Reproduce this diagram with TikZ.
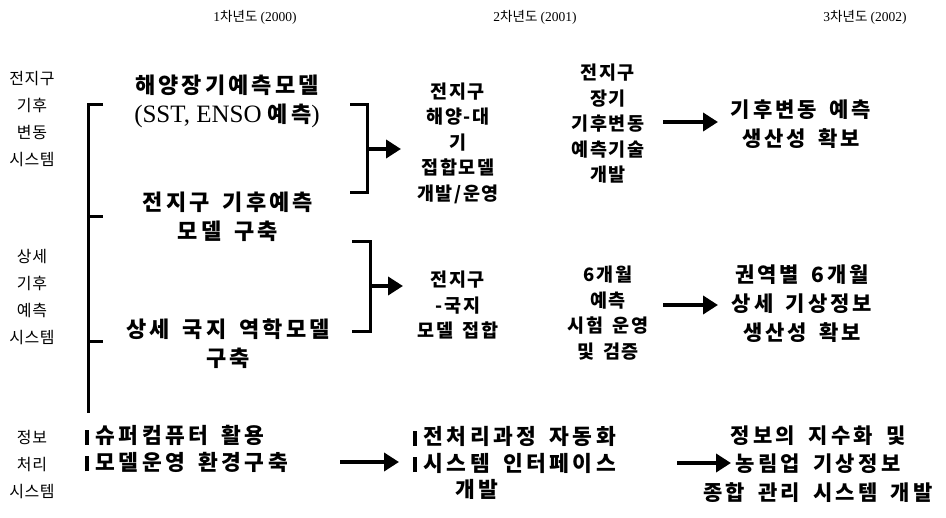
\documentclass[tikz,border=0pt]{standalone}
\usepackage{fontspec}
\newfontfamily\kr{Noto Sans CJK KR}[LetterSpace=4]
\newfontfamily\krA{Noto Sans CJK KR}[LetterSpace=14,WordSpace=1.6]
\newfontfamily\krB{Noto Sans CJK KR}[LetterSpace=8,WordSpace=1.6]
\newfontfamily\krC{Noto Sans CJK KR}[LetterSpace=16,WordSpace=1.6]
\newfontfamily\krh{Noto Sans CJK KR}
\newfontfamily\lat{Liberation Serif}
\usetikzlibrary{arrows.meta}
\tikzset{
  lbl/.style={font=\kr\fontsize{16}{27}\selectfont, align=center, inner sep=0pt},
  hdr/.style={font=\krh\fontsize{13.5}{16}\selectfont, inner sep=0pt},
  big/.style={font=\krA\bfseries\fontsize{22}{29}\selectfont, align=center, inner sep=0pt},
  mid/.style={font=\krB\bfseries\fontsize{18.5}{25.5}\selectfont, align=center, inner sep=0pt},
  res/.style={font=\krA\bfseries\fontsize{21}{29}\selectfont, align=center, inner sep=0pt},
  bot/.style={font=\krC\bfseries\fontsize{21.5}{26.5}\selectfont, align=left, inner sep=0pt},
  brk/.style={line width=3pt},
  arr/.style={line width=4pt, -{Triangle[length=15pt,width=18pt]}},
}
\newcommand{\barmark}{\rule[-1pt]{3.5pt}{15pt}\hspace{7pt}}
\begin{document}
\begin{tikzpicture}[x=1pt,y=-1pt]
\useasboundingbox (0,0) rectangle (946,518);
% headers
\node[hdr] (h1) at (255,17) {{\lat 1}차년도 {\lat (2000)}};
\node[hdr] (h2) at (535,17) {{\lat 2}차년도 {\lat (2001)}};
\node[hdr] (h3) at (865,17) {{\lat 3}차년도 {\lat (2002)}};
% left labels
\node[lbl] (l1) at (32,119) {전지구\\기후\\변동\\시스템};
\node[lbl] (l2) at (32,297) {상세\\기후\\예측\\시스템};
\node[lbl] (l3) at (32,465) {정보\\처리\\시스템};
% left bracket
\coordinate (bt) at (88,105);
\coordinate (bm) at (88,217);
\coordinate (bl) at (88,342);
\coordinate (bb) at (88,413);
\draw[brk] ([xshift=15pt]bt) -- (bt) -- (bb);
\draw[brk] (bm) -- ([xshift=15pt]bm);
\draw[brk] (bl) -- ([xshift=15pt]bl);
% column 1
\node[big] (c1a) at (227,101) {해양장기예측모델\\{\lat\mdseries\fontsize{25}{29}\selectfont (SST, ENSO }예측{\lat\mdseries\fontsize{25}{29}\selectfont )}};
\node[big] (c1b) at (228,217) {전지구 기후예측\\모델 구축};
\node[big] (c1c) at (228,344) {상세 국지 역학모델\\구축};
% right brackets
\coordinate (r1t) at (367,105);
\coordinate (r1b) at (367,193);
\coordinate (r1m) at (367,149);
\draw[brk] ([xshift=-17pt]r1t) -- (r1t) -- (r1b) -- ([xshift=-17pt]r1b);
\coordinate (r2t) at (370,242);
\coordinate (r2b) at (370,332);
\coordinate (r2m) at (370,286);
\draw[brk] ([xshift=-18pt]r2t) -- (r2t) -- (r2b) -- ([xshift=-18pt]r2b);
% column 2
\node[mid] (c2a) at (458,143) {전지구\\해양-대\\기\\접합모델\\개발/운영};
\node[mid] (c2b) at (458,305) {전지구\\-국지\\모델 접합};
\coordinate (a1e) at (401,149);
\coordinate (a2e) at (403,286);
\draw[arr] (r1m) -- (a1e);
\draw[arr] (r2m) -- (a2e);
% column 3
\node[mid] (c3a) at (608,124) {전지구\\장기\\기후변동\\예측기술\\개발};
\node[mid] (c3b) at (608,313) {6개월\\예측\\시험 운영\\및 검증};
% column 4
\node[res] (c4a) at (801,124) {기후변동 예측\\생산성 확보};
\node[res] (c4b) at (802,304) {권역별 6개월\\상세 기상정보\\생산성 확보};
\coordinate (a3s) at (663,122);
\coordinate (a3e) at (718,122);
\coordinate (a4s) at (663,305);
\coordinate (a4e) at (718,305);
\draw[arr] (a3s) -- (a3e);
\draw[arr] (a4s) -- (a4e);
% bottom row
\node[bot, anchor=west] (d1) at (85,449) {\barmark 슈퍼컴퓨터 활용\\\barmark 모델운영 환경구축};
\node[bot, anchor=west] (d2) at (413,463) {\barmark 전처리과정 자동화\\\barmark 시스템 인터페이스\\\hspace{42pt}개발};
\node[res, font=\krC\bfseries\fontsize{21}{28.5}\selectfont] (d3) at (818,464) {정보의 지수화 및\\농림업 기상정보\\종합 관리 시스템 개발};
\coordinate (a5s) at (340,462);
\coordinate (a5e) at (399,462);
\coordinate (a6s) at (677,463);
\coordinate (a6e) at (731,463);
\draw[arr] (a5s) -- (a5e);
\draw[arr] (a6s) -- (a6e);
\end{tikzpicture}
\end{document}
